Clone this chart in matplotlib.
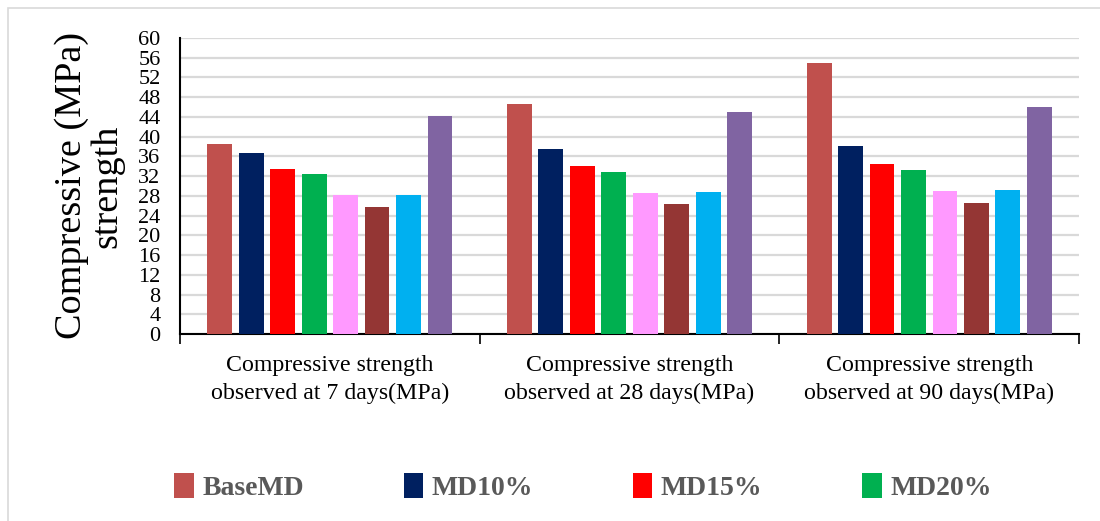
import numpy as np
import matplotlib
matplotlib.use("Agg")
import matplotlib.pyplot as plt
from matplotlib.patches import Rectangle

plt.rcParams['font.family'] = ['Liberation Serif', 'DejaVu Serif']

categories = ["Compressive strength\nobserved at 7 days(MPa)",
              "Compressive strength\nobserved at 28 days(MPa)",
              "Compressive strength\nobserved at 90 days(MPa)"]
series_names = ["BaseMD", "MD10%", "MD15%", "MD20%", "MD25%", "MD30%", "MD35%", "MD40%"]
series_colors = ["#C0504D", "#002060", "#FF0000", "#00B050",
                 "#FF99FF", "#943634", "#00B0F0", "#8064A2"]
values = [
    [38.5, 46.7, 55.0],
    [36.7, 37.4, 38.2],
    [33.4, 34.0, 34.5],
    [32.5, 32.8, 33.2],
    [28.2, 28.6, 28.9],
    [25.8, 26.3, 26.6],
    [28.1, 28.7, 29.2],
    [44.2, 45.1, 46.1],
]
y_ticks = list(range(0, 61, 4))

fig = plt.figure(figsize=(11, 5.21), dpi=100)
ax = fig.add_axes([0.1636, 0.359, 0.8174, 0.568])

# light frame around the whole chart
fig.patches.append(Rectangle((8 / 1100, -0.1), 1.2, 1 - 8 / 521 + 0.1,
                             transform=fig.transFigure, fill=False,
                             edgecolor="#d9d9d9", lw=1.2))

x = np.arange(len(categories))
step = 0.105
width = 0.083
bars = []
for i, (name, col) in enumerate(zip(series_names, series_colors)):
    b = ax.bar(x + (i - 3.5) * step, values[i], width, color=col, label=name, zorder=3)
    bars.append(b)

ax.set_xlim(-0.5, 2.5)
ax.set_ylim(0, 60)
ax.set_yticks(y_ticks)
ax.tick_params(axis='y', length=0, pad=14, labelsize=16)
ax.yaxis.grid(True, color="#d9d9d9", lw=1.6, zorder=0)
ax.set_axisbelow(True)

ax.set_xticks(x)
ax.set_xticklabels(categories, fontsize=17.2, linespacing=1.45)
ax.set_xticks([-0.5, 0.5, 1.5, 2.5], minor=True)
ax.tick_params(axis='x', which='major', length=0, pad=15)
ax.tick_params(axis='x', which='minor', length=7, width=1.2, direction='out')

for s in ["top", "right"]:
    ax.spines[s].set_visible(False)
ax.spines["left"].set_linewidth(1.5)
ax.spines["bottom"].set_linewidth(1.5)

ax.set_ylabel("Compressive (MPa)\nstrength", fontsize=27.5, linespacing=1.05, labelpad=10)

leg = fig.legend([b[0] for b in bars[:4]], series_names[:4], loc="center",
                 bbox_to_anchor=(0.53, 1 - 487 / 521), ncol=4, frameon=False,
                 handlelength=0.7, handleheight=1.0, handletextpad=0.3,
                 columnspacing=3.6, prop={'size': 20, 'weight': 'bold'})
for t in leg.get_texts():
    t.set_color("#595959")

fig.savefig("out.png", dpi=100)
